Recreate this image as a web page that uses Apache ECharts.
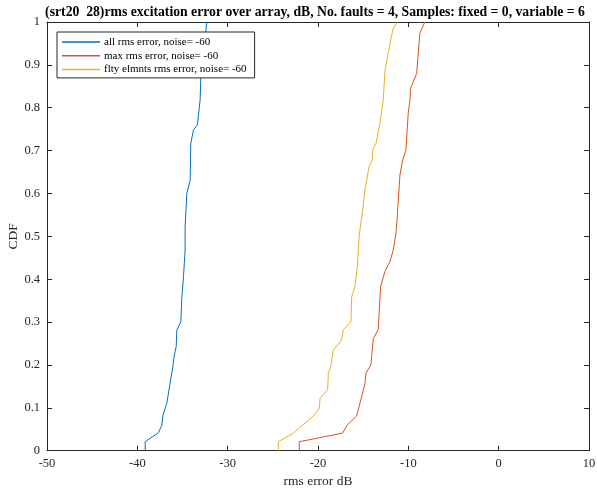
<!DOCTYPE html>
<html>
<head>
<meta charset="utf-8">
<script src="https://cdn.jsdelivr.net/npm/echarts@6/dist/echarts.min.js"></script>
<style>
html,body{margin:0;padding:0;background:#fff;}
#chart{width:597px;height:489px;}
</style>
</head>
<body>
<div id="chart"></div>
<script>
// Empirical CDFs of rms excitation error (dB)
var allX  = [-39.13,-39.13,-37.66,-37.28,-37.17,-36.73,-36.44,-36.07,-35.92,-35.70,-35.62,-35.18,-35.07,-34.89,-34.71,-34.71,-34.52,-34.15,-34.08,-33.79,-33.35,-33.05,-32.97,-32.31];
var allY  = [0,0.021,0.042,0.060,0.082,0.111,0.149,0.196,0.221,0.243,0.282,0.301,0.359,0.406,0.468,0.523,0.600,0.631,0.717,0.748,0.760,0.818,0.872,1.0];

var maxX  = [-22.07,-22.07,-17.27,-16.76,-15.72,-15.35,-14.80,-14.69,-14.14,-13.88,-13.33,-13.07,-12.59,-12.04,-11.67,-11.37,-11.23,-11.04,-10.93,-10.63,-10.27,-10.01,-9.82,-9.75,-9.08,-8.72,-8.17];
var maxY  = [0,0.021,0.041,0.060,0.081,0.111,0.157,0.181,0.200,0.262,0.282,0.383,0.418,0.441,0.468,0.507,0.546,0.608,0.643,0.678,0.701,0.787,0.818,0.845,0.880,0.974,1.0];

var fltyX = [-24.39,-24.39,-22.73,-20.52,-19.85,-19.78,-18.93,-18.86,-18.59,-18.31,-17.93,-17.38,-17.20,-16.35,-16.27,-15.91,-15.65,-15.43,-15.06,-14.80,-14.36,-13.99,-13.95,-13.58,-13.14,-12.78,-12.59,-12.04,-11.67,-11.19];
var fltyY = [0,0.021,0.041,0.081,0.099,0.122,0.142,0.181,0.196,0.235,0.244,0.258,0.282,0.301,0.359,0.383,0.429,0.503,0.561,0.608,0.662,0.678,0.701,0.717,0.764,0.818,0.884,0.950,0.985,1.0];

var seriesNames = ['all rms error, noise= -60','max rms error, noise= -60','flty elmnts rms error, noise= -60'];
var seriesColors = ['#0072BD','#D95319','#EDB120'];
var xTicks = [-50,-40,-30,-20,-10,0,10];
var titleText = '(srt20  28)rms excitation error over array, dB, No. faults = 4, Samples: fixed = 0, variable = 6';

function pairs(xs, ys){ return xs.map(function(x,i){ return [x, ys[i]]; }); }
var seriesData = [pairs(allX,allY), pairs(maxX,maxY), pairs(fltyX,fltyY)];

var FONT = '"Liberation Serif","Times New Roman",serif';
var AX = '#262626';

var chart = echarts.init(document.getElementById('chart'), null, {renderer:'canvas'});

function xAx(pos, labels){
  return {
    type:'value', position:pos, min:xTicks[0], max:xTicks[xTicks.length-1], interval:10,
    axisLine:{show:true, onZero:false, lineStyle:{color:AX, width:1}},
    axisTick:{show:true, inside:true, length:5, lineStyle:{color:AX}},
    axisLabel:{show:labels, color:'#262626', fontFamily:FONT, fontSize:12.5, margin:7},
    splitLine:{show:false},
    name: labels ? 'rms error dB' : '', nameLocation:'middle', nameGap:23.5, nameMoveOverlap:false,
    nameTextStyle:{color:'#262626', fontFamily:FONT, fontSize:13.5}
  };
}
function yAx(pos, labels){
  return {
    type:'value', position:pos, min:0, max:1, interval:0.1,
    axisLine:{show:true, onZero:false, lineStyle:{color:AX, width:1}},
    axisTick:{show:true, inside:true, length:5, lineStyle:{color:AX}},
    axisLabel:{show:labels, color:'#262626', fontFamily:FONT, fontSize:12.5, margin:7},
    splitLine:{show:false},
    name: labels ? 'CDF' : '', nameLocation:'middle', nameGap:27, nameMoveOverlap:false,
    nameTextStyle:{color:'#262626', fontFamily:FONT, fontSize:13.5}
  };
}

chart.setOption({
  animation:false,
  backgroundColor:'#fff',
  grid:{left:47, right:8, top:22, bottom:38.3, outerBoundsMode:'none', containLabel:false},
  graphic:[{
    type:'text', x:315, y:12.5,
    style:{text:titleText, textAlign:'center', textVerticalAlign:'middle',
           font:'bold 13.7px ' + FONT, fill:'#000'}
  }],
  legend:{
    orient:'vertical', left:57, top:32,
    backgroundColor:'#fff', borderColor:'#262626', borderWidth:1,
    padding:[3.5,8,2,5], itemGap:0.7,
    itemWidth:38, itemHeight:1.5, icon:'rect',
    textStyle:{fontFamily:FONT, fontSize:11, lineHeight:13, color:'#000', padding:[0,0,0,-1]},
    data:seriesNames
  },
  xAxis:[xAx('bottom', true), xAx('top', false)],
  yAxis:[yAx('left', true), yAx('right', false)],
  series:seriesNames.map(function(n,i){
    return {
      name:n, type:'line', xAxisIndex:0, yAxisIndex:0,
      data:seriesData[i], symbol:'none', smooth:false,
      lineStyle:{color:seriesColors[i], width:1}, itemStyle:{color:seriesColors[i]}
    };
  })
});
</script>
</body>
</html>
